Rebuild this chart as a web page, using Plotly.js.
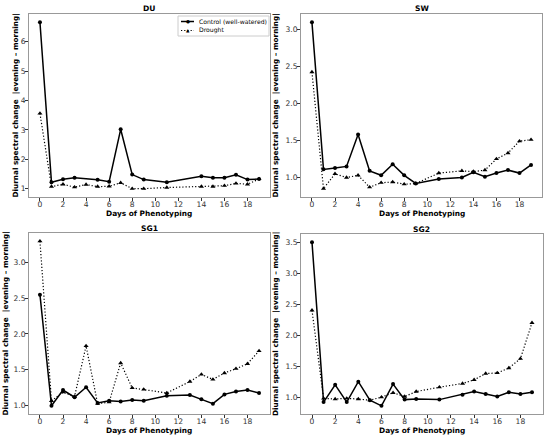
<!DOCTYPE html>
<html>
<head>
<meta charset="utf-8">
<script src="https://cdn.plot.ly/plotly-3.0.1.min.js"></script>
<style>html,body{margin:0;padding:0;background:#fff}#chart{width:550px;height:439px}</style>
</head>
<body>
<div id="chart"></div>
<script>
// ---- Data ----
const panelNames = ["DU", "SW", "SG1", "SG2"];

const duControlDays = [0,1,2,3,5,6,7,8,9,11,14,15,16,17,18,19];
const duControl     = [6.66,1.22,1.32,1.37,1.30,1.24,3.02,1.48,1.31,1.22,1.42,1.37,1.37,1.47,1.31,1.33];
const duDroughtDays = [0,1,2,3,4,5,6,7,8,9,11,14,15,16,17,18,19];
const duDrought     = [3.56,1.07,1.15,1.05,1.14,1.07,1.08,1.20,1.00,1.00,1.04,1.07,1.07,1.10,1.18,1.15,1.33];

const swDays    = [0,1,2,3,4,5,6,7,8,9,11,13,14,15,16,17,18,19];
const swControl = [3.09,1.11,1.13,1.15,1.58,1.09,1.03,1.18,1.03,0.92,0.98,1.00,1.07,1.01,1.06,1.10,1.06,1.17];
const swDrought = [2.42,0.85,1.05,1.00,1.03,0.87,0.93,0.94,0.91,0.92,1.06,1.09,1.08,1.10,1.25,1.33,1.49,1.51];

const sg1Days    = [0,1,2,3,4,5,6,7,8,9,11,13,14,15,16,17,18,19];
const sg1Control = [2.55,0.99,1.21,1.11,1.25,1.03,1.06,1.05,1.07,1.06,1.13,1.14,1.08,1.02,1.15,1.19,1.21,1.17];
const sg1Drought = [3.30,1.06,1.18,1.12,1.83,1.02,1.04,1.59,1.24,1.22,1.17,1.33,1.43,1.36,1.45,1.51,1.58,1.76];

const sg2Days    = [0,1,2,3,4,5,6,7,8,9,11,13,14,15,16,17,18,19];
const sg2Control = [3.51,0.93,1.21,0.93,1.26,0.96,0.87,1.22,0.97,0.98,0.97,1.05,1.10,1.06,1.02,1.09,1.06,1.09];
const sg2Drought = [2.41,0.99,0.98,0.99,0.98,0.96,1.01,1.08,1.02,1.10,1.17,1.23,1.29,1.39,1.40,1.48,1.63,2.21];

const xTickVals = [0,2,4,6,8,10,12,14,16,18];
const xTitle = "Days of Phenotyping";
const yTitle = "Diurnal spectral change  |evening \u2013 morning|";
const legendNames = ["Control (well-watered)", "Drought"];

// ---- Build ----
const panels = [
  {cx: duControlDays, cy: duControl, dx: duDroughtDays, dy: duDrought, fmt: "d", dtick: 1, tick0: 1},
  {cx: swDays, cy: swControl, dx: swDays, dy: swDrought, fmt: ".1f", dtick: 0.5, tick0: 1},
  {cx: sg1Days, cy: sg1Control, dx: sg1Days, dy: sg1Drought, fmt: ".1f", dtick: 0.5, tick0: 1},
  {cx: sg2Days, cy: sg2Control, dx: sg2Days, dy: sg2Drought, fmt: ".1f", dtick: 0.5, tick0: 1}
];

const W = 550, H = 439;
const boxes = [
  {l: 29, r: 270, t: 14, b: 197, yt: 15},
  {l: 301, r: 542, t: 14, b: 197, yt: 275},
  {l: 29, r: 270, t: 233, b: 414, yt: 5},
  {l: 301, r: 543, t: 234, b: 414, yt: 275}
];

const CONTROL_DASH = "solid";
const DROUGHT_DASH = "1.2px,2px";

const traces = [];
const layout = {
  width: W, height: H,
  margin: {l: 0, r: 0, t: 0, b: 0},
  paper_bgcolor: "#fff", plot_bgcolor: "#fff",
  font: {family: "DejaVu Sans", color: "#000"},
  showlegend: false,
  annotations: [],
  shapes: []
};

function pad(arr) {
  const mn = Math.min(...arr), mx = Math.max(...arr);
  const m = (mx - mn) * 0.05;
  return [mn - m, mx + m];
}
const px = v => v / W;
const py = v => 1 - v / H;

panels.forEach((p, i) => {
  const n = i + 1;
  const xa = n === 1 ? "x" : "x" + n;
  const ya = n === 1 ? "y" : "y" + n;
  traces.push({
    x: p.cx, y: p.cy, xaxis: xa, yaxis: ya, type: "scatter", mode: "lines+markers",
    name: legendNames[0],
    line: {color: "#000", width: 1.5, dash: CONTROL_DASH},
    marker: {symbol: "circle", size: 4, color: "#000"}
  });
  traces.push({
    x: p.dx, y: p.dy, xaxis: xa, yaxis: ya, type: "scatter", mode: "lines+markers",
    name: legendNames[1],
    line: {color: "#000", width: 1.2, dash: DROUGHT_DASH},
    marker: {symbol: "triangle-up", size: 4.5, color: "#000"}
  });
  const b = boxes[i];
  const yr = pad(p.cy.concat(p.dy));
  const axCommon = {
    showline: true, mirror: true, linecolor: "#999", linewidth: 1,
    showgrid: false, zeroline: false,
    ticks: "outside", ticklen: 3, tickwidth: 1, tickcolor: "#333",
    tickfont: {size: 7.6, family: "DejaVu Sans", color: "#333"}
  };
  layout["xaxis" + (n === 1 ? "" : n)] = Object.assign({}, axCommon, {
    domain: [px(b.l), px(b.r)], anchor: ya,
    range: [-0.95, 19.95], tickvals: xTickVals, ticklabelstandoff: -3
  });
  layout["yaxis" + (n === 1 ? "" : n)] = Object.assign({}, axCommon, {
    domain: [py(b.b), py(b.t)], anchor: xa,
    range: yr, dtick: p.dtick, tick0: p.tick0, tickformat: p.fmt, ticklabelstandoff: -2
  });
  // panel title
  layout.annotations.push({
    text: "<b>" + panelNames[i] + "</b>", xref: "paper", yref: "paper",
    x: px((b.l + b.r) / 2), y: py(b.t - 5), xanchor: "center", yanchor: "middle",
    showarrow: false, font: {size: 7.6, family: "DejaVu Sans"}
  });
  // x title
  layout.annotations.push({
    text: "<b>" + xTitle + "</b>", xref: "paper", yref: "paper",
    x: px((b.l + b.r) / 2), y: py(b.b + 16), xanchor: "center", yanchor: "middle",
    showarrow: false, borderpad: 0, font: {size: 7.4, family: "DejaVu Sans"}
  });
  // y title
  layout.annotations.push({
    text: "<b>" + yTitle + "</b>", xref: "paper", yref: "paper", textangle: -90,
    x: px(b.yt), y: py((b.t + b.b) / 2), xanchor: "center", yanchor: "middle",
    showarrow: false, borderpad: 0, font: {size: 7.3, family: "DejaVu Sans"}
  });
});

// ---- Legend (top-right of DU panel) ----
const lg = {l: 178, r: 269, t: 16, b: 36};
layout.shapes.push({
  type: "rect", xref: "paper", yref: "paper",
  x0: px(lg.l), x1: px(lg.r), y0: py(lg.b), y1: py(lg.t),
  line: {color: "#ccc", width: 1}, fillcolor: "rgba(255,255,255,0.85)", layer: "above"
});
const legendRows = [
  {y: 21.5, dash: CONTROL_DASH, w: 1.5, sym: "\u25CF", symSize: 4.5},
  {y: 30.5, dash: DROUGHT_DASH, w: 1.2, sym: "\u25B2", symSize: 4.5}
];
legendRows.forEach((r, k) => {
  layout.shapes.push({
    type: "line", xref: "paper", yref: "paper",
    x0: px(181), x1: px(194), y0: py(r.y), y1: py(r.y),
    line: {color: "#000", width: r.w, dash: r.dash}, layer: "above"
  });
  layout.annotations.push({
    text: r.sym, xref: "paper", yref: "paper", x: px(187.5), y: py(r.y),
    xanchor: "center", yanchor: "middle", showarrow: false, borderpad: 0,
    font: {size: r.symSize, family: "DejaVu Sans", color: "#000"}
  });
  layout.annotations.push({
    text: legendNames[k], xref: "paper", yref: "paper", x: px(198), y: py(r.y),
    xanchor: "left", yanchor: "middle", showarrow: false, borderpad: 0,
    font: {size: 6.1, family: "DejaVu Sans", color: "#000"}
  });
});

Plotly.newPlot("chart", traces, layout, {displayModeBar: false, staticPlot: true});
</script>
</body>
</html>
